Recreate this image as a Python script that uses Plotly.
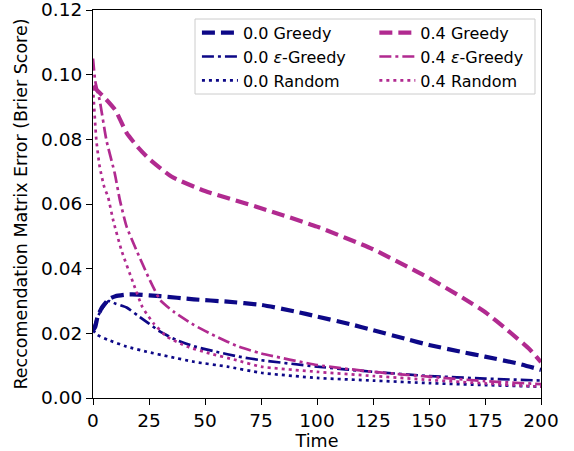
import plotly.graph_objects as go

# ---- data ----
t_g00 = [0, 1, 2, 4, 7, 10, 15, 20, 30, 45, 60, 75, 90, 100, 115, 125, 140, 150, 165, 175, 190, 200]
v_g00 = [0.0210, 0.0220, 0.0250, 0.0280, 0.0305, 0.0315, 0.0320, 0.0320, 0.0315, 0.0305, 0.0298, 0.0288,
         0.0268, 0.0252, 0.0228, 0.0210, 0.0182, 0.0164, 0.0142, 0.0128, 0.0106, 0.0087]

t_e00 = [0, 2, 4, 7, 10, 15, 20, 25, 30, 37, 45, 55, 65, 75, 100, 125, 150, 175, 200]
v_e00 = [0.0210, 0.0250, 0.0275, 0.0300, 0.0292, 0.0280, 0.0255, 0.0230, 0.0205, 0.0180, 0.0160, 0.0143,
         0.0128, 0.0117, 0.0097, 0.0081, 0.0068, 0.0060, 0.0054]

t_r00 = [0, 2, 7, 15, 24, 34, 45, 60, 75, 100, 125, 150, 175, 200]
v_r00 = [0.0210, 0.0195, 0.0179, 0.0159, 0.0143, 0.0128, 0.0112, 0.0097, 0.0078, 0.0062, 0.0054, 0.0046,
         0.0040, 0.0035]

t_g04 = [0, 2, 5, 10, 15, 20, 25, 35, 50, 75, 100, 125, 150, 165, 175, 185, 195, 200]
v_g04 = [0.0965, 0.0950, 0.0930, 0.0890, 0.0820, 0.0776, 0.0740, 0.0685, 0.0640, 0.0587, 0.0530, 0.0460,
         0.0371, 0.0310, 0.0266, 0.0210, 0.0150, 0.0111]

t_e04 = [0, 1, 3, 6, 9.7, 12, 15, 19.4, 25, 30, 36, 45, 55, 65, 75, 100, 125, 150, 175, 200]
v_e04 = [0.1050, 0.0980, 0.0920, 0.0797, 0.0695, 0.0612, 0.0530, 0.0457, 0.0370, 0.0303, 0.0267, 0.0226,
         0.0190, 0.0159, 0.0138, 0.0102, 0.0081, 0.0066, 0.0052, 0.0043]

t_r04 = [0, 1.5, 3, 5, 6.7, 9, 12.7, 18, 22, 27, 33, 42, 52, 64, 75, 100, 125, 150, 175, 200]
v_r04 = [0.0960, 0.0797, 0.0715, 0.0653, 0.0622, 0.0550, 0.0457, 0.0355, 0.0282, 0.0231, 0.0190, 0.0159,
         0.0138, 0.0117, 0.0097, 0.0081, 0.0068, 0.0056, 0.0045, 0.0035]

x_ticks = [0, 25, 50, 75, 100, 125, 150, 175, 200]
y_ticks = [0.00, 0.02, 0.04, 0.06, 0.08, 0.10, 0.12]

C0 = "#0d0887"
C4 = "#b12a90"
FONT = "DejaVu Sans"

series = [
    (t_g00, v_g00, "0.0 Greedy", C0, 4.2, "13px,6px", "legend"),
    (t_e00, v_e00, "0.0 <i>ε</i>-Greedy", C0, 2.7, "12px,4px,3px,4px", "legend"),
    (t_r00, v_r00, "0.0 Random", C0, 2.7, "3px,4px", "legend"),
    (t_g04, v_g04, "0.4 Greedy", C4, 4.2, "13px,6px", "legend2"),
    (t_e04, v_e04, "0.4 <i>ε</i>-Greedy", C4, 2.7, "12px,4px,3px,4px", "legend2"),
    (t_r04, v_r04, "0.4 Random", C4, 2.7, "3px,4px", "legend2"),
]

fig = go.Figure()
for t, v, name, col, w, dash, lg in series:
    fig.add_trace(go.Scatter(x=t, y=v, name=name, mode="lines", legend=lg,
                             line=dict(color=col, width=w, dash=dash, shape="spline", smoothing=0.5)))

axis_common = dict(showline=True, linecolor="black", linewidth=1, mirror=True, ticks="outside",
                   ticklen=6, tickwidth=1, tickcolor="black", showgrid=False, zeroline=False,
                   automargin=False, ticklabeloverflow="allow",
                   tickfont=dict(family=FONT, size=18.5, color="black"))

fig.update_layout(
    width=574, height=451,
    margin=dict(l=93, r=33, t=10, b=53),
    paper_bgcolor="white", plot_bgcolor="white",
    font=dict(family=FONT, color="black"),
    xaxis=dict(range=[0, 200], tickvals=x_ticks,
               title=dict(text="Time", font=dict(family=FONT, size=17.5, color="black"), standoff=4),
               **axis_common),
    yaxis=dict(range=[0, 0.12], tickvals=y_ticks, tickformat=".2f",
               title=dict(text="Reccomendation Matrix Error (Brier Score)",
                          font=dict(family=FONT, size=17.5, color="black"), standoff=8),
               **axis_common),
    legend=dict(x=0.232, y=0.985, xanchor="left", yanchor="top", bgcolor="rgba(0,0,0,0)",
                font=dict(family=FONT, size=16, color="black"), itemwidth=36, tracegroupgap=0),
    legend2=dict(x=0.628, y=0.985, xanchor="left", yanchor="top", bgcolor="rgba(0,0,0,0)",
                 font=dict(family=FONT, size=16, color="black"), itemwidth=36, tracegroupgap=0),
    shapes=[dict(type="rect", xref="paper", yref="paper", x0=0.2277, x1=0.9866, y0=0.7835, y1=0.9768,
                 line=dict(color="#cccccc", width=1), fillcolor="rgba(255,255,255,0.8)", layer="above")],
)

fig.write_html("out.html", config={"displayModeBar": False},
               post_script="document.body.style.margin='0px';")
